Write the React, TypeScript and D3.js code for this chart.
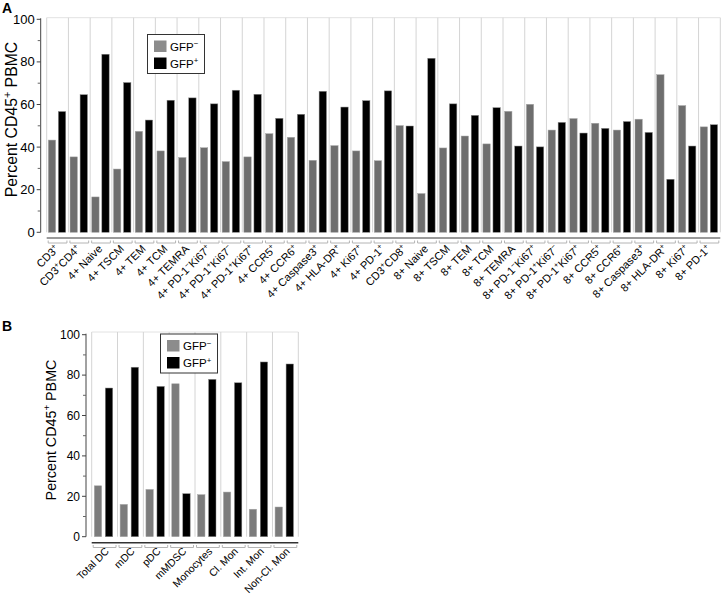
import React from "react";
import * as d3 from "d3";

// ---------- DATA ----------
const catsA = [
  "CD3^+", "CD3^+CD4^+", "4+ Naive", "4+ TSCM", "4+ TEM", "4+ TCM", "4+ TEMRA",
  "4+ PD-1^-Ki67^+", "4+ PD-1^+Ki67^-", "4+ PD-1^+Ki67^+", "4+ CCR5^+", "4+ CCR6^+",
  "4+ Caspase3^+", "4+ HLA-DR^+", "4+ Ki67^+", "4+ PD-1^+", "CD3^+CD8^+", "8+ Naive",
  "8+ TSCM", "8+ TEM", "8+ TCM", "8+ TEMRA", "8+ PD-1^-Ki67^+", "8+ PD-1^+Ki67^-",
  "8+ PD-1^+Ki67^+", "8+ CCR5^+", "8+ CCR6^+", "8+ Caspase3^+", "8+ HLA-DR^+",
  "8+ Ki67^+", "8+ PD-1^+",
];
const gfpNegA = [
  43.3, 35.4, 16.6, 29.7, 47.4, 38.2, 35.1, 39.7, 33.2, 35.4, 46.3, 44.6, 33.8, 40.7, 38.2,
  33.6, 50.1, 18.2, 39.6, 45.2, 41.5, 56.8, 60.1, 48.0, 53.4, 51.2, 48.0, 53.1, 74.0, 59.5, 49.5,
];
const gfpPosA = [
  56.7, 64.6, 83.6, 70.3, 52.7, 62.0, 63.1, 60.3, 66.7, 64.8, 53.5, 55.4, 66.2, 58.8, 61.8,
  66.4, 49.9, 81.7, 60.3, 54.9, 58.5, 40.5, 40.1, 51.6, 46.6, 48.8, 52.0, 46.9, 24.9, 40.5, 50.5,
];

const catsB = ["Total DC", "mDC", "pDC", "mMDSC", "Monocytes", "Cl. Mon", "Int. Mon", "Non-Cl. Mon"];
const gfpNegB = [25.2, 16.0, 23.4, 75.7, 20.8, 22.1, 13.6, 14.7];
const gfpPosB = [73.6, 83.9, 74.4, 21.3, 77.9, 76.2, 86.5, 85.5];

const majorTicks = [0, 20, 40, 60, 80, 100];
const minorTicks = [10, 30, 50, 70, 90];
const seriesKeys = ["neg", "pos"];
const legendLabels = ["GFP^-", "GFP^+"];
const yTitle = "Percent CD45^+ PBMC";

const FONT = "'Liberation Sans', Arial, Helvetica, sans-serif";

// ---------- helpers ----------
function parseSup(s: string) {
  const parts: { t: string; sup: boolean }[] = [];
  let buf = "";
  for (let i = 0; i < s.length; i++) {
    if (s[i] === "^" && i + 1 < s.length) {
      if (buf) parts.push({ t: buf, sup: false });
      buf = "";
      parts.push({ t: s[i + 1] === "-" ? "\u2212" : s[i + 1], sup: true });
      i++;
    } else buf += s[i];
  }
  if (buf) parts.push({ t: buf, sup: false });
  return parts;
}

function RichText({ text, fontSize, ...rest }: any) {
  const parts = parseSup(text);
  let raised = false;
  const shift = fontSize * 0.38;
  return (
    <text fontSize={fontSize} fontFamily={FONT} {...rest}>
      {parts.map((p, i) => {
        let dy = 0;
        if (p.sup && !raised) { dy = -shift; raised = true; }
        else if (!p.sup && raised) { dy = shift; raised = false; }
        return (
          <tspan key={i} dy={dy} fontSize={p.sup ? fontSize * 0.68 : fontSize}>
            {p.t}
          </tspan>
        );
      })}
    </text>
  );
}

function Panel(props: any) {
  const {
    cats, neg, pos, x0, x1, yTop, y0, y100, axisX, tickFont, titleX, titleY, titleFont,
    labelFont, labelDx, labelY, subPad, subPadInner, negColor, baseLineY, baseColor,
    baseWidth, bracketY, legendX, legendY, legendFont, labelTag,
  } = props;
  const y = d3.scaleLinear().domain([0, 100]).range([y0, y100]);
  const x = d3.scaleBand().domain(cats).range([x0, x1]);
  const bw = x.bandwidth();
  const sub = d3.scaleBand().domain(seriesKeys).range([bw * subPad[0], bw * subPad[1]]).paddingInner(subPadInner);
  const seps = [...cats.map((c: string) => x(c) as number), x1];
  return (
    <g>
      {/* top border */}
      <line x1={x0} x2={x1} y1={yTop} y2={yTop} stroke="#e2e2e2" strokeWidth={1} />
      {/* separators */}
      {seps.map((sx: number, i: number) => (
        <line key={i} x1={sx} x2={sx} y1={yTop} y2={y0} stroke="#d4d4d4" strokeWidth={1} />
      ))}
      {/* bars */}
      {cats.map((c: string, i: number) => (
        <g key={c}>
          <rect x={(x(c) as number) + (sub("neg") as number)} width={sub.bandwidth()}
            y={y(neg[i])} height={y0 - y(neg[i])} fill={negColor} stroke="#a8a8a8" strokeWidth={0.5} />
          <rect x={(x(c) as number) + (sub("pos") as number)} width={sub.bandwidth()}
            y={y(pos[i])} height={y0 - y(pos[i])} fill="#000" stroke="#888" strokeWidth={0.5} />
        </g>
      ))}
      {/* y axis */}
      <line x1={axisX} x2={axisX} y1={y(100) - 1} y2={y0} stroke="#444" strokeWidth={1} />
      {majorTicks.map((t) => (
        <g key={t}>
          <line x1={axisX - 4} x2={axisX} y1={y(t)} y2={y(t)} stroke="#444" strokeWidth={1} />
          <text x={axisX - 6} y={y(t)} dy="0.35em" textAnchor="end" fontSize={tickFont} fontFamily={FONT} fill="#000">
            {t}
          </text>
        </g>
      ))}
      {minorTicks.map((t) => (
        <line key={t} x1={axisX - 3} x2={axisX} y1={y(t)} y2={y(t)} stroke="#666" strokeWidth={1} />
      ))}
      {/* y title */}
      <RichText text={yTitle} fontSize={titleFont} textAnchor="middle"
        transform={`translate(${titleX},${titleY}) rotate(-90)`} fill="#000" />
      {/* base line */}
      <line x1={x0} x2={x1} y1={baseLineY} y2={baseLineY} stroke={baseColor} strokeWidth={baseWidth} />
      {/* brackets */}
      {cats.map((c: string) => {
        const a = (x(c) as number) + 1.5;
        const b = (x(c) as number) + bw - 1.5;
        return (
          <path key={c} d={`M${a},${bracketY - 2.5}V${bracketY}H${b}V${bracketY - 2.5}`}
            fill="none" stroke="#b4b4b4" strokeWidth={1} />
        );
      })}
      {/* x labels */}
      {cats.map((c: string) => {
        const cx = (x(c) as number) + bw / 2 + labelDx;
        return (
          <RichText key={c} text={c} fontSize={labelFont} textAnchor="end" fill="#000"
            transform={`translate(${cx},${labelY}) rotate(-45)`} />
        );
      })}
      {/* legend */}
      <g transform={`translate(${legendX},${legendY})`}>
        <rect x={0.5} y={0.5} width={57} height={39} fill="#fff" stroke="#333" strokeWidth={1} />
        <rect x={7} y={6.5} width={12.5} height={11.5} fill="#8c8c8c" />
        <rect x={7} y={23.5} width={12.5} height={11.5} fill="#000" />
        <RichText text={legendLabels[0]} fontSize={legendFont} x={23} y={16.5} fill="#000" />
        <RichText text={legendLabels[1]} fontSize={legendFont} x={23} y={33.5} fill="#000" />
      </g>
      <text x={2} y={labelTag.y} fontSize={14} fontWeight="bold" fontFamily={FONT}>{labelTag.t}</text>
    </g>
  );
}

export default function App() {
  return (
    <svg width={722} height={595} viewBox="0 0 722 595"
      style={{ position: "absolute", left: 0, top: 0, background: "#fff" }}>
      <rect width={722} height={595} fill="#fff" />
      <Panel
        cats={catsA} neg={gfpNegA} pos={gfpPosA}
        x0={46.7} x1={720.3} yTop={17.7} y0={232.3} y100={19.3} axisX={40.7}
        tickFont={13} titleX={16.5} titleY={119.5} titleFont={15.8}
        labelFont={11} labelDx={2} labelY={249.5}
        subPad={[0.074, 0.875]} subPadInner={0.27} negColor="#6e6e6e"
        baseLineY={238} baseColor="#9a9a9a" baseWidth={2} bracketY={243}
        legendX={147} legendY={34} legendFont={11.5}
        labelTag={{ t: "A", y: 13 }}
      />
      <Panel
        cats={catsB} neg={gfpNegB} pos={gfpPosB}
        x0={91.7} x1={298.3} yTop={332} y0={536.7} y100={334.7} axisX={86}
        tickFont={12} titleX={55.5} titleY={430} titleFont={14.3}
        labelFont={10.5} labelDx={5} labelY={552}
        subPad={[0.1, 0.813]} subPadInner={0.33} negColor="#7c7c7c"
        baseLineY={542.7} baseColor="#333" baseWidth={1.5} bracketY={547.5}
        legendX={160} legendY={333.5} legendFont={11.5}
        labelTag={{ t: "B", y: 331 }}
      />
    </svg>
  );
}
